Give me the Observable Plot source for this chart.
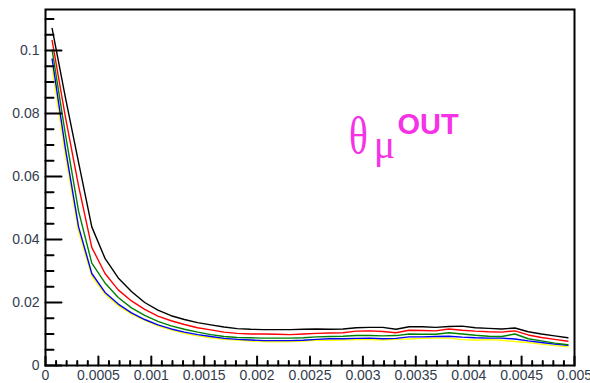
<!DOCTYPE html>
<html><head><meta charset="utf-8">
<script src="https://cdn.jsdelivr.net/npm/d3@7"></script>
<script src="https://cdn.jsdelivr.net/npm/@observablehq/plot@0.6"></script>
<style>body{margin:0;background:#fff;} svg{display:block;}</style>
</head><body><div id="chart"></div>
<script>
// bin centres (40 bins of 0.000125)
const xCenters = [0.0000625,0.0001875,0.0003125,0.0004375,0.0005625,0.0006875,0.0008125,0.0009375,0.0010625,0.0011875,
  0.0013125,0.0014375,0.0015625,0.0016875,0.0018125,0.0019375,0.0020625,0.0021875,0.0023125,0.0024375,
  0.0025625,0.0026875,0.0028125,0.0029375,0.0030625,0.0031875,0.0033125,0.0034375,0.0035625,0.0036875,
  0.0038125,0.0039375,0.0040625,0.0041875,0.0043125,0.0044375,0.0045625,0.0046875,0.0048125,0.0049375];

const blackVals = [0.1070,0.0852,0.0645,0.0440,0.0340,0.0278,0.0235,0.0200,0.0176,0.0158,
  0.0146,0.0136,0.0129,0.0122,0.0117,0.0115,0.0114,0.0114,0.0114,0.0115,
  0.0116,0.0115,0.0116,0.0120,0.0121,0.0121,0.0115,0.0123,0.0123,0.0121,
  0.0124,0.0125,0.0120,0.0118,0.0116,0.0119,0.0107,0.0100,0.0094,0.0088];
const redVals = [0.1032,0.0790,0.0570,0.0375,0.0292,0.0240,0.0205,0.0178,0.0157,0.0142,
  0.0130,0.0120,0.0113,0.0106,0.0102,0.0100,0.0100,0.0099,0.0098,0.0100,
  0.0102,0.0103,0.0104,0.0109,0.0110,0.0108,0.0104,0.0112,0.0111,0.0110,
  0.0116,0.0112,0.0109,0.0107,0.0106,0.0110,0.0097,0.0089,0.0083,0.0077];
const greenVals = [0.1002,0.0735,0.0490,0.0325,0.0262,0.0216,0.0183,0.0159,0.0140,0.0126,
  0.0115,0.0106,0.0098,0.0092,0.0089,0.0088,0.0087,0.0087,0.0087,0.0088,
  0.0091,0.0092,0.0093,0.0095,0.0095,0.0094,0.0095,0.0100,0.0099,0.0099,
  0.0104,0.0100,0.0096,0.0093,0.0092,0.0100,0.0085,0.0078,0.0071,0.0066];
const blueVals = [0.0973,0.0690,0.0440,0.0292,0.0232,0.0195,0.0167,0.0146,0.0129,0.0116,
  0.0106,0.0098,0.0092,0.0086,0.0083,0.0081,0.0079,0.0079,0.0079,0.0080,
  0.0083,0.0085,0.0085,0.0086,0.0087,0.0085,0.0086,0.0091,0.0091,0.0092,
  0.0093,0.0090,0.0088,0.0087,0.0087,0.0084,0.0078,0.0073,0.0068,0.0064];
const yellowVals = [0.0944,0.0668,0.0425,0.0284,0.0226,0.0190,0.0163,0.0143,0.0126,0.0113,
  0.0102,0.0094,0.0088,0.0083,0.0081,0.0078,0.0076,0.0075,0.0076,0.0078,
  0.0080,0.0080,0.0081,0.0082,0.0082,0.0081,0.0083,0.0084,0.0086,0.0087,
  0.0087,0.0082,0.0080,0.0082,0.0080,0.0076,0.0073,0.0068,0.0063,0.0059];

const seriesNames = ["yellow","blue","green","red","black"];
const seriesColors = ["#f2e600","#0000ff","#00e000","#ff0000","#222222"];
const seriesValues = [yellowVals, blueVals, greenVals, redVals, blackVals];

const yMajor = [0,0.02,0.04,0.06,0.08,0.1];
const yLabels = ["0","0.02","0.04","0.06","0.08","0.1"];
const yMinor = [0.005,0.01,0.015,0.025,0.03,0.035,0.045,0.05,0.055,0.065,0.07,0.075,0.085,0.09,0.095,0.105,0.11];
const xMajor = [0,0.0005,0.001,0.0015,0.002,0.0025,0.003,0.0035,0.004,0.0045,0.005];
const xLabels = ["0","0.0005","0.001","0.0015","0.002","0.0025","0.003","0.0035","0.004","0.0045","0.005"];
const xMinor = d3.range(0, 51).filter(i => i % 5 !== 0).map(i => i / 10000);

const table = [];
seriesNames.forEach((name, s) => {
  seriesValues[s].forEach((v, i) => table.push({x: xCenters[i], y: v, series: name}));
});

const tickShape = {draw(ctx, l) { ctx.moveTo(0, 0); ctx.lineTo(0, -l); }};
const magenta = "#f532e6";
const labelColor = "#333c4e";

function narrow(k) {
  return (index, scales, values, dims, ctx, next) => {
    const g = next(index, scales, values, dims, ctx);
    g.querySelectorAll("text").forEach(t => {
      t.setAttribute("transform", (t.getAttribute("transform") || "") + ` scale(${k},1)`);
    });
    return g;
  };
}

const chart = Plot.plot({
  width: 590, height: 383,
  marginLeft: 45, marginRight: 16, marginTop: 9, marginBottom: 18,
  style: {fontFamily: "Liberation Sans, Arial, sans-serif", background: "#fff"},
  x: {domain: [0, 0.005], axis: null},
  y: {domain: [0, 0.113], axis: null},
  color: {domain: seriesNames, range: seriesColors},
  marks: [
    Plot.line(table, {x: "x", y: "y", z: "series", stroke: "series", strokeWidth: 1.4}),
    Plot.frame({stroke: "black", strokeWidth: 2}),
    Plot.vector(yMajor, {y: d => d, frameAnchor: "left", rotate: 90, length: 16, anchor: "start", shape: tickShape, stroke: "black", strokeWidth: 2}),
    Plot.vector(yMinor, {y: d => d, frameAnchor: "left", rotate: 90, length: 8, anchor: "start", shape: tickShape, stroke: "black", strokeWidth: 2}),
    Plot.vector(xMajor, {x: d => d, frameAnchor: "bottom", rotate: 0, length: 9, anchor: "start", shape: tickShape, stroke: "black", strokeWidth: 2}),
    Plot.vector(xMinor, {x: d => d, frameAnchor: "bottom", rotate: 0, length: 4.5, anchor: "start", shape: tickShape, stroke: "black", strokeWidth: 2}),
    Plot.text(yMajor, {y: d => d, frameAnchor: "left", text: (d, i) => yLabels[i], textAnchor: "end", dx: -6, fontSize: 14, fill: labelColor}),
    Plot.text(xMajor, {x: d => d, frameAnchor: "bottom", text: (d, i) => xLabels[i], lineAnchor: "top", dy: 5, fontSize: 14, fill: labelColor}),
    Plot.text(["θ"], {frameAnchor: "top-left", text: d => d, dx: 313, dy: 143, lineAnchor: "bottom", textAnchor: "middle", fontSize: 53, fontFamily: "Liberation Serif, serif", fill: magenta, render: narrow(0.74)}),
    Plot.text(["μ"], {frameAnchor: "top-left", text: d => d, dx: 339, dy: 148, lineAnchor: "bottom", textAnchor: "middle", fontSize: 40, fontFamily: "Liberation Serif, serif", fill: magenta}),
    Plot.text(["OUT"], {frameAnchor: "top-left", text: d => d, dx: 352, dy: 124, lineAnchor: "bottom", textAnchor: "start", fontSize: 29, fontWeight: "bold", fontFamily: "Liberation Sans, Arial, sans-serif", fill: magenta})
  ]
});
document.getElementById("chart").appendChild(chart);
</script>
</body></html>
